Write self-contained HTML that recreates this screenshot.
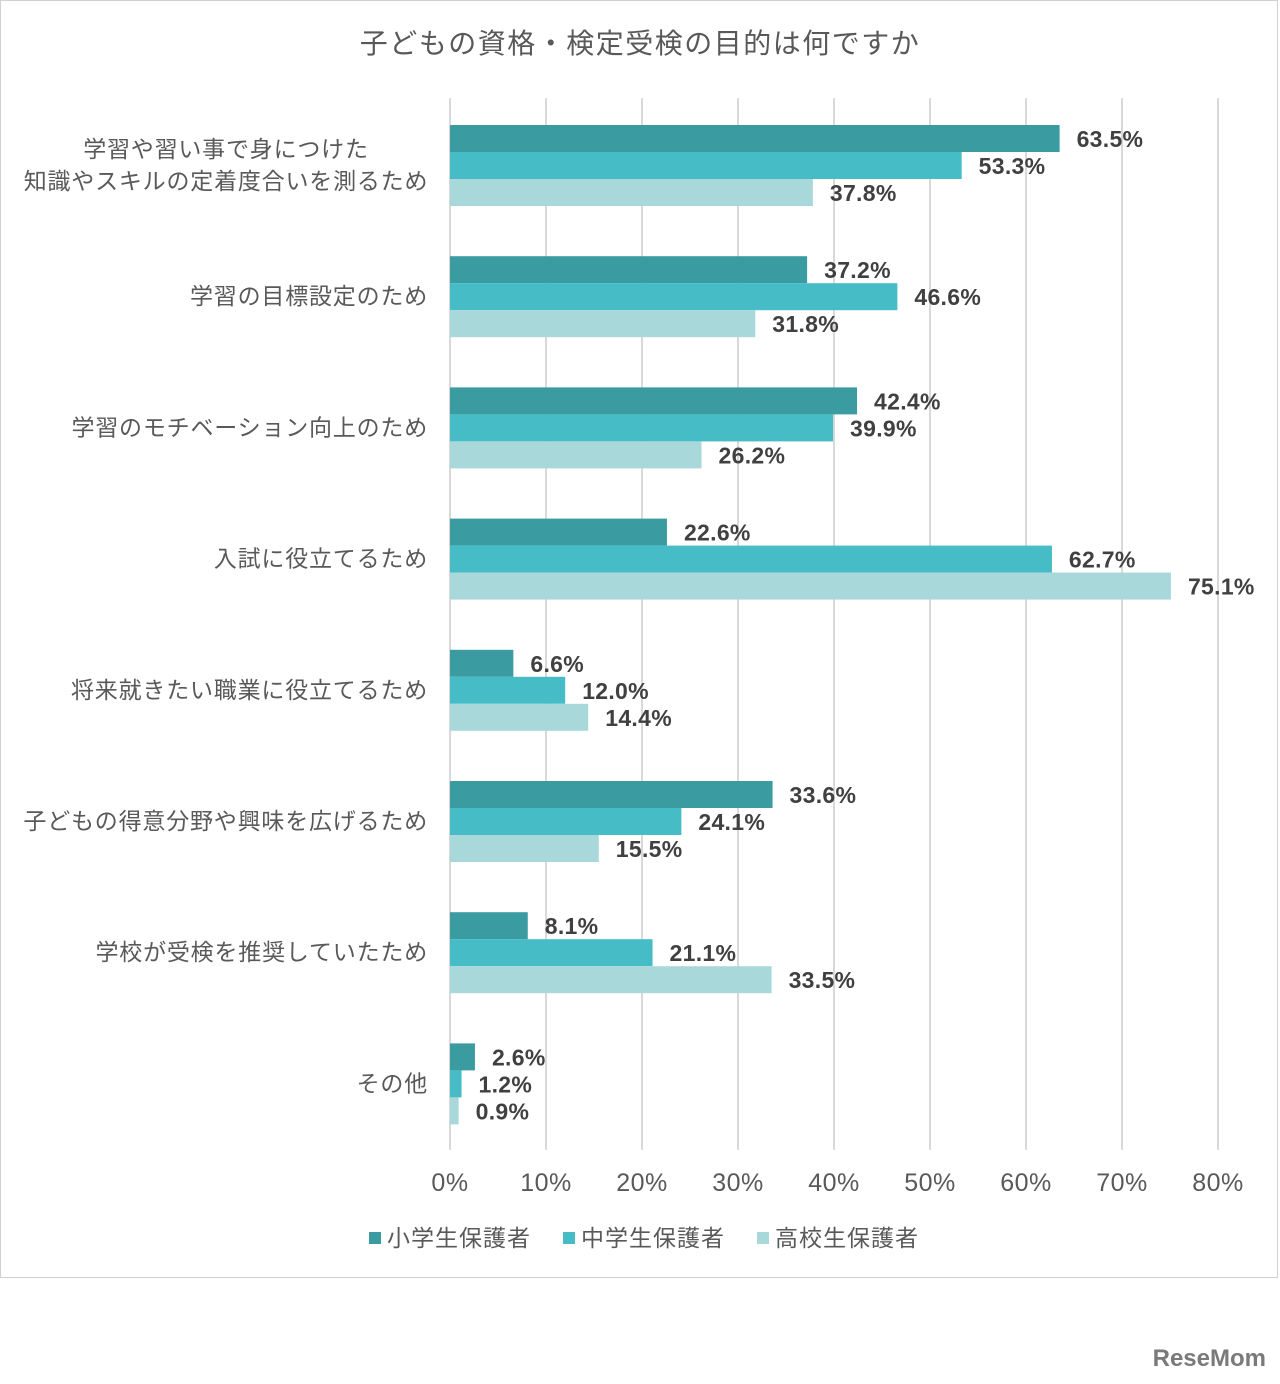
<!DOCTYPE html>
<html><head><meta charset="utf-8"><style>
body{margin:0;width:1280px;height:1379px;background:#fff;overflow:hidden;font-family:"Liberation Sans","Noto Sans CJK JP",sans-serif}
</style></head><body>
<svg id="chart" width="1280" height="1379" xmlns="http://www.w3.org/2000/svg">
<rect x="0.5" y="0.5" width="1277" height="1277" fill="#fff" stroke="#d0d0d0"/>
<text x="640" y="53" text-anchor="middle" font-size="28" letter-spacing="1.5" fill="#595959" font-family="Liberation Sans,Noto Sans CJK JP,sans-serif">子どもの資格・検定受検の目的は何ですか</text>
<g id="grid"></g><g id="bars"></g><g id="labels"></g>
<g font-size="23" letter-spacing="1" fill="#595959" font-family="Liberation Sans,Noto Sans CJK JP,sans-serif">
<rect x="369" y="1232" width="12" height="12" fill="#3a9ca1"/>
<text x="387" y="1246">小学生保護者</text>
<rect x="563" y="1232" width="12" height="12" fill="#45bcc6"/>
<text x="581" y="1246">中学生保護者</text>
<rect x="757" y="1232" width="12" height="12" fill="#a9d8db"/>
<text x="775" y="1246">高校生保護者</text>
</g>
<text x="1266" y="1366" text-anchor="end" font-size="24" font-weight="bold" fill="#7a7a7a" font-family="Liberation Sans,sans-serif">ReseMom</text>
</svg>
<script>
const categories=[["学習や習い事で身につけた","知識やスキルの定着度合いを測るため"],["学習の目標設定のため"],["学習のモチベーション向上のため"],["入試に役立てるため"],["将来就きたい職業に役立てるため"],["子どもの得意分野や興味を広げるため"],["学校が受検を推奨していたため"],["その他"]];
const elementary=[63.5,37.2,42.4,22.6,6.6,33.6,8.1,2.6];
const junior=[53.3,46.6,39.9,62.7,12.0,24.1,21.1,1.2];
const high=[37.8,31.8,26.2,75.1,14.4,15.5,33.5,0.9];
const ticks=[0,10,20,30,40,50,60,70,80];
const NS="http://www.w3.org/2000/svg";
const x=v=>450+v*9.6;
const gy=i=>125+i*131.2;
const BH=27;
function mk(parent,tag,attrs){const e=document.createElementNS(NS,tag);for(const k in attrs)e.setAttribute(k,attrs[k]);document.getElementById(parent).appendChild(e);return e;}
ticks.forEach(t=>{
 const l=mk('grid','line',{x1:x(t),x2:x(t),y1:98,y2:1150,stroke:'#d9d9d9','stroke-width':2});
 
 
 const tx=mk('grid','text',{x:x(t),y:1191,'text-anchor':'middle','font-size':25,'letter-spacing':0.5,fill:'#595959'});
 tx.textContent=t+'%';
 
 
});
const series=[[elementary,'#3a9ca1','elementary'],[junior,'#45bcc6','junior'],[high,'#a9d8db','high']];
categories.forEach((c,i)=>{
 const cy=gy(i)+40;
 const multi=c.length>1;
 const t=mk('labels','text',{'text-anchor':multi?'middle':'end','font-size':23,'letter-spacing':0.8,fill:'#595959'});
 
 
 c.forEach((line,j)=>{const ts=document.createElementNS(NS,'tspan');ts.setAttribute('x',multi?226:428);ts.setAttribute('y',cy+8+(j-(c.length-1)/2)*32);ts.textContent=line;t.appendChild(ts);});
 series.forEach((s,k)=>{
  const v=s[0][i];const y=gy(i)+k*BH;
  const r=mk('bars','rect',{x:450,y:y,width:x(v)-450,height:BH,fill:s[1]});
  
  
  const lb=mk('labels','text',{x:x(v)+17,y:y+22,'font-size':23,'letter-spacing':0.3,'font-weight':'bold',fill:'#404040'});
  lb.textContent=v.toFixed(1)+'%';
  
  
 });
});
</script>
</body></html>
